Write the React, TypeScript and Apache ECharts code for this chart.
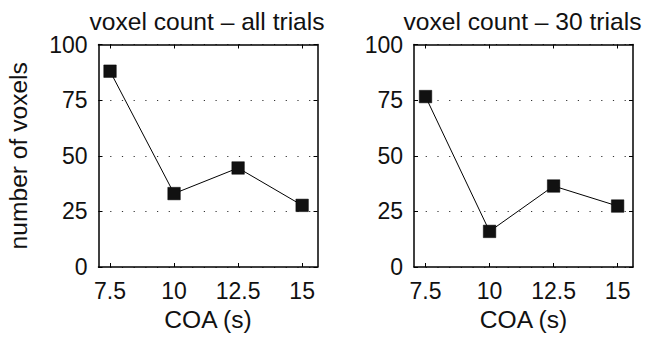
import React, { useEffect, useRef } from "react";
import * as echarts from "echarts";

const coaValues = [7.5, 10, 12.5, 15];
const allTrialsCounts = [88, 33, 44.5, 27.7];
const thirtyTrialsCounts = [76.6, 16, 36.4, 27.4];
const xTickLabels = [7.5, 10, 12.5, 15];
const yTickValues = [0, 25, 50, 75, 100];
const panelTitles = ["voxel count \u2013 all trials", "voxel count \u2013 30 trials"];
const yAxisTitle = "number of voxels";
const xAxisTitle = "COA (s)";

const FONT = "'Liberation Sans', Arial, Helvetica, sans-serif";
const FS = 23;
const FS_BIG = 24.6;
const TXT = "#111";

export default function App() {
  const ref = useRef<HTMLDivElement>(null);
  useEffect(() => {
    document.body.style.margin = "0";
    if (!ref.current) return;
    const chart = echarts.init(ref.current, null, { renderer: "svg" });
    const grids = [
      { left: 98.5, top: 44.5, width: 219, height: 224.5 },
      { left: 414, top: 44.5, width: 219, height: 224.5 },
    ];
    const seriesData = [allTrialsCounts, thirtyTrialsCounts];
    const xAxes: any[] = [];
    const yAxes: any[] = [];
    grids.forEach((_, i) => {
      xAxes.push({
        type: "value",
        gridIndex: i,
        min: 7.05,
        max: 15.6,
        position: "bottom",
        name: xAxisTitle,
        nameLocation: "middle",
        nameGap: 40,
        nameTextStyle: { fontFamily: FONT, fontSize: FS_BIG, color: TXT },
        axisLine: { show: true, onZero: false, lineStyle: { color: "#000", width: 1.5 } },
        axisTick: { show: true, inside: true, length: 4, customValues: xTickLabels, lineStyle: { color: "#000" } },
        axisLabel: { show: true, customValues: xTickLabels, margin: 12, fontFamily: FONT, fontSize: FS, color: TXT },
        splitLine: { show: false },
      });
      xAxes.push({
        type: "value",
        gridIndex: i,
        min: 7.05,
        max: 15.6,
        position: "top",
        axisLine: { show: true, onZero: false, lineStyle: { color: "#000", width: 1.5 } },
        axisTick: { show: true, inside: true, length: 4, customValues: xTickLabels, lineStyle: { color: "#000" } },
        axisLabel: { show: false },
        splitLine: { show: false },
      });
      yAxes.push({
        type: "value",
        gridIndex: i,
        min: 0,
        max: 100,
        interval: 25,
        position: "left",
        name: i === 0 ? yAxisTitle : "",
        nameLocation: "middle",
        nameGap: 68,
        nameRotate: 90,
        nameTextStyle: { fontFamily: FONT, fontSize: FS_BIG, color: TXT },
        axisLine: { show: true, onZero: false, lineStyle: { color: "#000", width: 1.5 } },
        axisTick: { show: true, inside: true, length: 4, lineStyle: { color: "#000" } },
        axisLabel: {
          show: true,
          margin: 11,
          fontFamily: FONT,
          fontSize: FS,
          color: TXT,
          customValues: yTickValues,
        },
        splitLine: { show: true, lineStyle: { color: "#333", width: 1, type: [1.2, 10.5] } },
      });
      yAxes.push({
        type: "value",
        gridIndex: i,
        min: 0,
        max: 100,
        interval: 25,
        position: "right",
        axisLine: { show: true, onZero: false, lineStyle: { color: "#000", width: 1.5 } },
        axisTick: { show: true, inside: true, length: 4, lineStyle: { color: "#000" } },
        axisLabel: { show: false },
        splitLine: { show: false },
      });
    });
    const series = seriesData.map((vals, i) => ({
      type: "line",
      xAxisIndex: i * 2,
      yAxisIndex: i * 2,
      data: coaValues.map((x, j) => [x, vals[j]]),
      symbol: "rect",
      symbolSize: 12.5,
      showSymbol: true,
      lineStyle: { color: "#000", width: 1 },
      itemStyle: { color: "#111", borderColor: "#000", borderWidth: 0.5 },
      z: 5,
    }));
    chart.setOption({
      animation: false,
      backgroundColor: "#fff",
      grid: grids,
      xAxis: xAxes,
      yAxis: yAxes,
      series,
      graphic: panelTitles.map((t, i) => ({
        type: "text",
        x: grids[i].left + grids[i].width / 2 - 1,
        y: 34,
        style: {
          text: t,
          fontFamily: FONT,
          fontSize: FS_BIG,
          fill: TXT,
          textAlign: "center",
          textVerticalAlign: "bottom",
        },
      })),
    });
    return () => chart.dispose();
  }, []);
  return <div ref={ref} style={{ width: 645, height: 337 }} />;
}
